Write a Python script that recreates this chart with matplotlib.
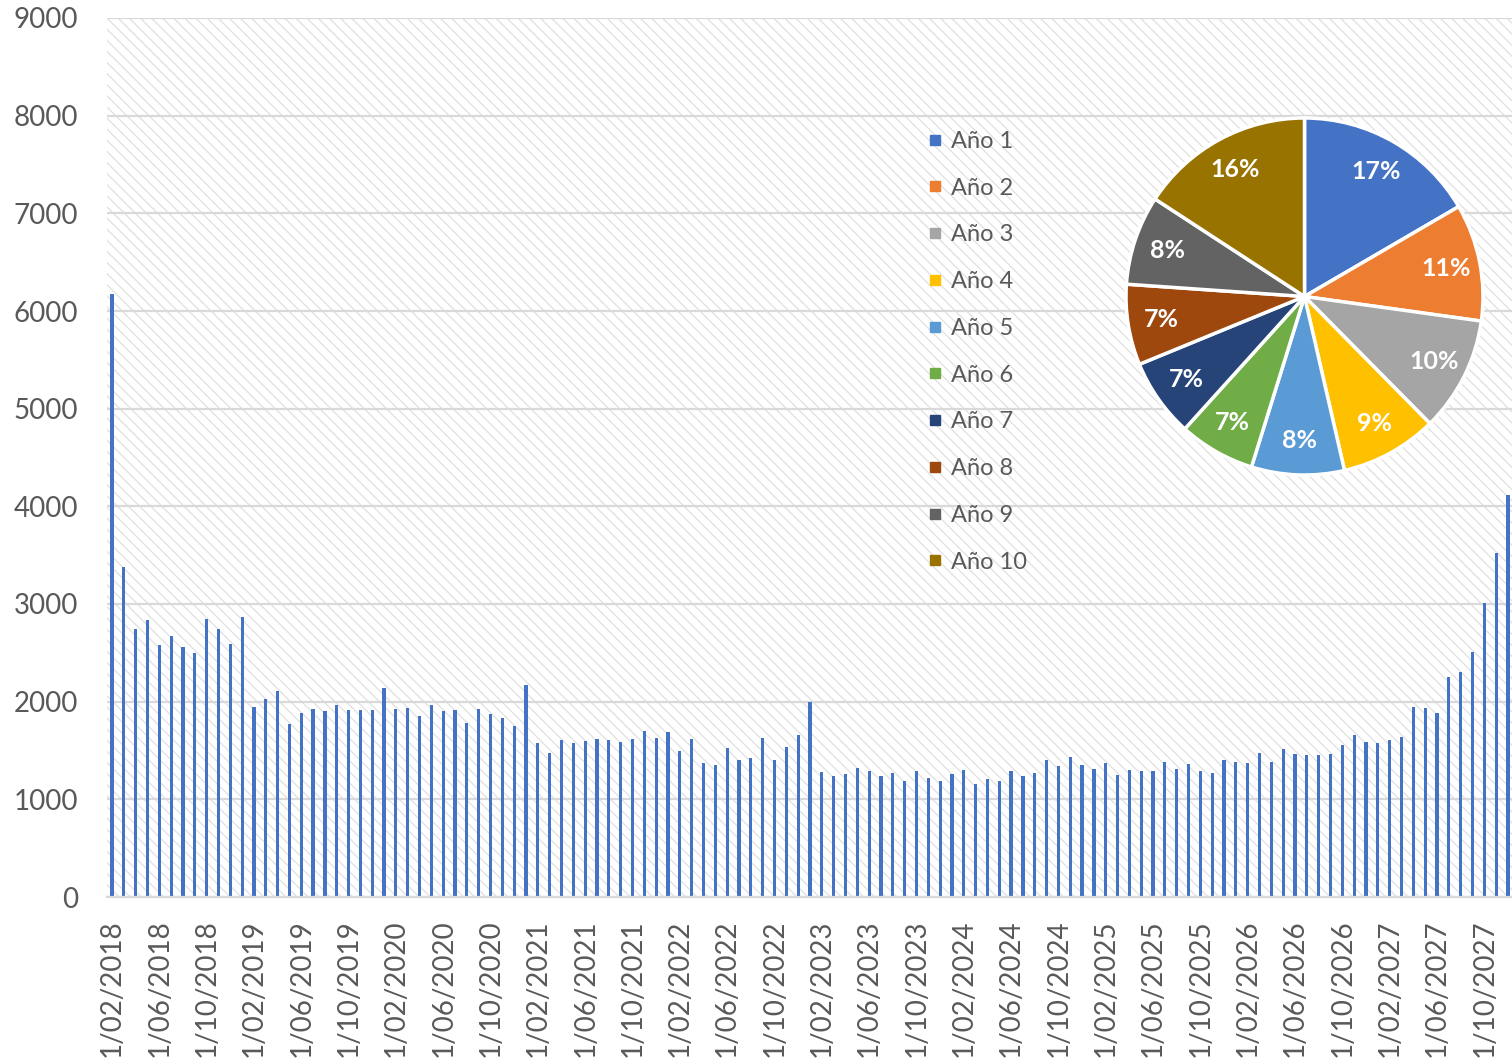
import matplotlib
matplotlib.use("Agg")
import matplotlib.pyplot as plt
from matplotlib.patches import Rectangle
from matplotlib.lines import Line2D

# ── Data ──────────────────────────────────────────────────────────────────────
# Monthly values, 02/2018 .. 12/2027
values = [
    6170, 3380, 2747, 2833, 2584, 2669, 2560, 2498, 2843, 2747, 2587, 2863,
    1945, 2031, 2106, 1768, 1881, 1925, 1901, 1962, 1915, 1918, 1915, 2137,
    1922, 1932, 1857, 1962, 1901, 1915, 1782, 1922, 1874, 1829, 1747, 2174,
    1573, 1471, 1608, 1573, 1601, 1618, 1611, 1590, 1618, 1696, 1625, 1689,
    1498, 1621, 1375, 1355, 1526, 1403, 1420, 1625, 1403, 1539, 1655, 1993,
    1280, 1235, 1259, 1317, 1287, 1242, 1266, 1191, 1293, 1218, 1191, 1256,
    1297, 1157, 1212, 1191, 1287, 1239, 1266, 1406, 1338, 1437, 1348, 1314,
    1372, 1246, 1297, 1294, 1294, 1382, 1314, 1358, 1294, 1273, 1399, 1379,
    1369, 1471, 1379, 1512, 1464, 1451, 1457, 1463, 1552, 1655, 1586, 1576,
    1607, 1634, 1942, 1935, 1887, 2253, 2304, 2506, 3012, 3518, 4113,
]
start_month, start_year = 2, 2018
months = []
m, y = start_month, start_year
for _ in values:
    months.append(f"1/{m:02d}/{y}")
    m += 1
    if m > 12:
        m, y = 1, y + 1

years = ["Año 1", "Año 2", "Año 3", "Año 4", "Año 5",
         "Año 6", "Año 7", "Año 8", "Año 9", "Año 10"]
year_share = [16.6, 10.6, 10.4, 8.8, 8.4, 6.9, 7.1, 7.3, 8.1, 15.8]
year_colors = ["#4472C4", "#ED7D31", "#A5A5A5", "#FFC000", "#5B9BD5",
               "#70AD47", "#264478", "#9E480E", "#636363", "#997300"]

# ── Style ─────────────────────────────────────────────────────────────────────
plt.rcParams["font.family"] = ["Lato", "DejaVu Sans"]
plt.rcParams["hatch.linewidth"] = 0.9
TEXT = "#595959"
GRID = "#d9d9d9"

fig = plt.figure(figsize=(15.12, 10.58), dpi=100)
fig.patch.set_facecolor("white")

ax = fig.add_axes([107 / 1512, 1 - 897 / 1058, 1 - 107 / 1512, (897 - 18) / 1058])
ax.set_facecolor("white")
ax.add_patch(Rectangle((0, 0), 1, 1, transform=ax.transAxes, facecolor="white",
                       edgecolor="#e0e0e0", hatch="\\\\\\", linewidth=0, zorder=0))

x = list(range(len(values)))
ax.bar(x, values, width=0.27, color="#4472C4", zorder=2)

ax.set_ylim(0, 9000)
ax.set_yticks(range(0, 9001, 1000))
ax.set_xlim(-0.42, len(values) - 1 + 0.34)
ax.set_xticks(x[::4])
ax.set_xticklabels(months[::4], rotation=90, va="top", ha="center")

ax.grid(axis="y", color=GRID, linewidth=1.6, zorder=1)
ax.set_axisbelow(True)
for side in ("top", "right", "left"):
    ax.spines[side].set_visible(False)
ax.spines["bottom"].set_color(GRID)
ax.spines["bottom"].set_linewidth(1.6)
ax.tick_params(axis="both", length=0, colors=TEXT, labelsize=20)
ax.tick_params(axis="y", pad=21)
ax.tick_params(axis="x", pad=16)

# ── Pie ───────────────────────────────────────────────────────────────────────
pax = fig.add_axes([1126 / 1512, 1 - 475 / 1058, 357 / 1512, 357 / 1058])
wedges, _, autotexts = pax.pie(
    year_share, colors=year_colors, startangle=90, counterclock=False,
    autopct="%.0f%%", pctdistance=0.81,
    wedgeprops=dict(edgecolor="white", linewidth=2.5),
    textprops=dict(color="white", fontsize=18, fontweight="bold"))
pax.set_xlim(-1, 1)
pax.set_ylim(-1, 1)
pax.set_aspect("equal")

handles = [Line2D([], [], marker="s", linestyle="", color=c, markersize=7.5)
           for c in year_colors]
fig.legend(handles, years, loc="upper left",
           bbox_to_anchor=(926 / 1512, 1 - 131 / 1058),
           frameon=False, borderpad=0, borderaxespad=0, fontsize=17,
           labelcolor=TEXT, handlelength=0.8, handletextpad=0.25,
           labelspacing=1.09)

plt.savefig("out.png", dpi=100)
